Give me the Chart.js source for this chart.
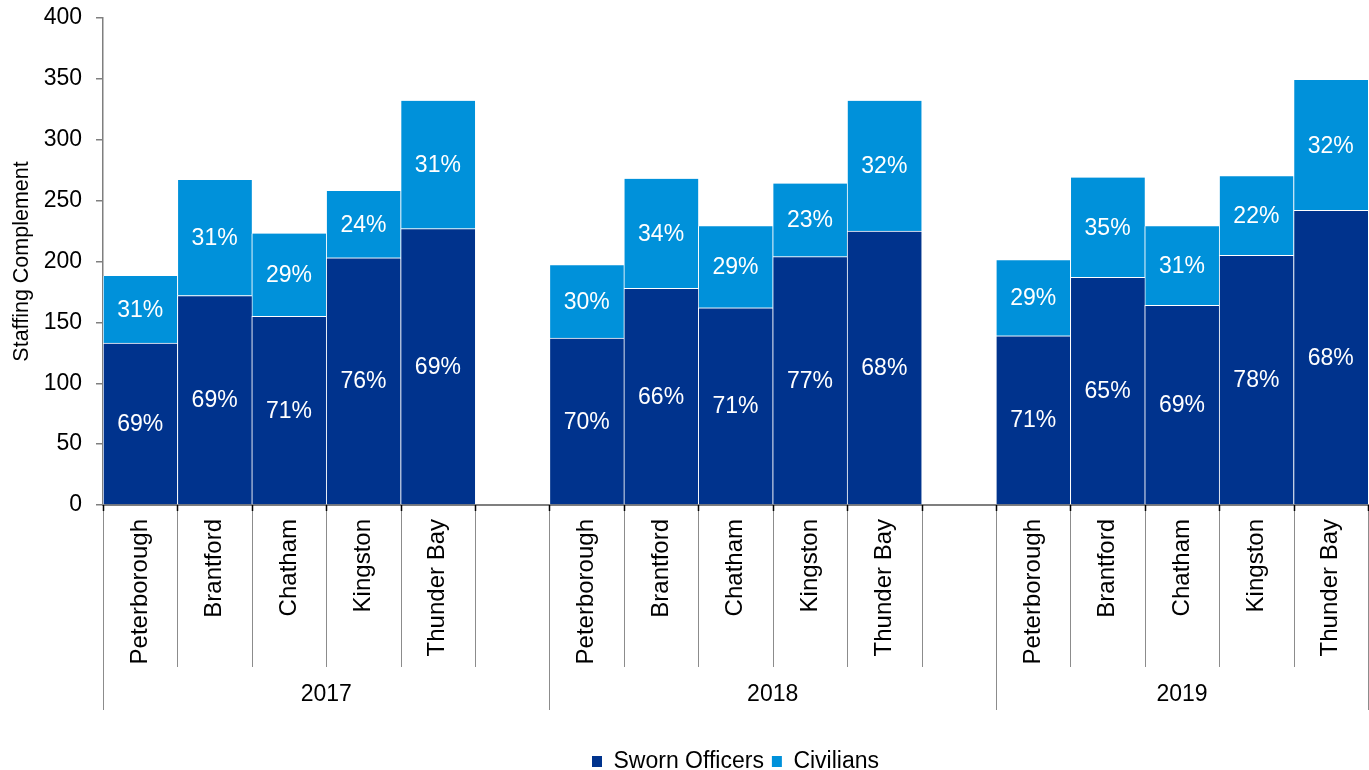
<!DOCTYPE html>
<html>
<head>
<meta charset="utf-8">
<script src="https://cdn.jsdelivr.net/npm/chart.js@4.4.1/dist/chart.umd.min.js"></script>
<style>
  html, body { margin: 0; padding: 0; background: #fff; }
</style>
</head>
<body>
<canvas id="staffChart" width="1369" height="770"></canvas>
<script>
const years = ['2017', '2018', '2019'];
const cities = ['Peterborough', 'Brantford', 'Chatham', 'Kingston', 'Thunder Bay'];

// headcounts per city
const sworn2017 = [133, 172, 155, 203, 227];
const civilians2017 = [55, 95, 68, 55, 105];
const sworn2018 = [137, 178, 162, 204, 225];
const civilians2018 = [60, 90, 67, 60, 107];
const sworn2019 = [139, 187, 164, 205, 242];
const civilians2019 = [62, 82, 65, 65, 107];

// share labels printed inside the bars
const swornPct2017 = [69, 69, 71, 76, 69];
const civiliansPct2017 = [31, 31, 29, 24, 31];
const swornPct2018 = [70, 66, 71, 77, 68];
const civiliansPct2018 = [30, 34, 29, 23, 32];
const swornPct2019 = [71, 65, 69, 78, 68];
const civiliansPct2019 = [29, 35, 31, 22, 32];

const yTicks = [0, 50, 100, 150, 200, 250, 300, 350, 400];

const FONT = "'Liberation Sans', Arial, sans-serif";
Chart.defaults.font.family = FONT;
Chart.defaults.font.size = 23;
Chart.defaults.color = '#000';

// flatten the years into one category axis, with an empty slot between groups
const swornYears = [sworn2017, sworn2018, sworn2019];
const civYears = [civilians2017, civilians2018, civilians2019];
const swornPctYears = [swornPct2017, swornPct2018, swornPct2019];
const civPctYears = [civiliansPct2017, civiliansPct2018, civiliansPct2019];

const labels = [];
const swornData = [], civData = [], swornPct = [], civPct = [];
const groupStarts = [];
years.forEach((yr, g) => {
  groupStarts.push(labels.length);
  cities.forEach((c, i) => {
    labels.push(c);
    swornData.push(swornYears[g][i]);
    civData.push(civYears[g][i]);
    swornPct.push(swornPctYears[g][i]);
    civPct.push(civPctYears[g][i]);
  });
  if (g < years.length - 1) {
    labels.push('');
    swornData.push(null); civData.push(null);
    swornPct.push(null); civPct.push(null);
  }
});
const pctByDataset = [swornPct, civPct];

// white % labels in the middle of each segment
const barLabels = {
  id: 'barLabels',
  afterDatasetsDraw(chart) {
    const ctx = chart.ctx;
    ctx.save();
    ctx.fillStyle = '#fff';
    ctx.font = '23px ' + FONT;
    ctx.textAlign = 'center';
    ctx.textBaseline = 'middle';
    chart.data.datasets.forEach((ds, d) => {
      chart.getDatasetMeta(d).data.forEach((bar, i) => {
        if (ds.data[i] == null) return;
        const p = bar.getProps(['x', 'y', 'base'], true);
        ctx.fillText(pctByDataset[d][i] + '%', p.x, (p.y + p.base) / 2 + 1);
      });
    });
    ctx.restore();
  }
};

// separators under the x axis + year row
const yearAxis = {
  id: 'yearAxis',
  afterDraw(chart) {
    const xs = chart.scales.x;
    const ctx = chart.ctx;
    const half = (xs.getPixelForValue(1) - xs.getPixelForValue(0)) / 2;
    ctx.save();
    ctx.lineWidth = 1;
    for (let i = 0; i <= labels.length; i++) {
      const px = Math.round(xs.getPixelForValue(i) - half) + 0.5;
      const isGroup = groupStarts.includes(i) || i === labels.length;
      ctx.strokeStyle = '#8c8c8c';
      ctx.beginPath();
      ctx.moveTo(px, xs.top);
      ctx.lineTo(px, xs.top + (isGroup ? 205 : 162));
      ctx.stroke();
      // short dark tick right under the axis
      ctx.strokeStyle = '#000';
      ctx.lineWidth = 1.5;
      ctx.beginPath();
      ctx.moveTo(px, xs.top);
      ctx.lineTo(px, xs.top + 6);
      ctx.stroke();
      ctx.lineWidth = 1;
    }
    ctx.fillStyle = '#000';
    ctx.font = '23px ' + FONT;
    ctx.textAlign = 'center';
    ctx.textBaseline = 'middle';
    years.forEach((yr, g) => {
      const start = xs.getPixelForValue(groupStarts[g]) - half;
      const endIdx = g < years.length - 1 ? groupStarts[g + 1] : labels.length;
      const end = xs.getPixelForValue(endIdx) - half;
      ctx.fillText(yr, (start + end) / 2, xs.top + 190);
    });
    ctx.restore();
  }
};

const ctx = document.getElementById('staffChart').getContext('2d');
const staffChart = new Chart(ctx, {
  type: 'bar',
  data: {
    labels: labels,
    datasets: [{
      label: 'Sworn Officers',
      data: swornData,
      backgroundColor: '#00338D',
      borderColor: '#ffffff',
      borderWidth: { top: 1, left: 1, right: 0, bottom: 0 },
      borderSkipped: false,
      barPercentage: 1,
      categoryPercentage: 1
    }, {
      label: 'Civilians',
      data: civData,
      backgroundColor: '#0091DA',
      borderColor: '#ffffff',
      borderWidth: { top: 0, left: 1, right: 0, bottom: 0 },
      borderSkipped: false,
      barPercentage: 1,
      categoryPercentage: 1
    }]
  },
  options: {
    responsive: false,
    animation: false,
    layout: { padding: { top: 18, right: 1, bottom: -13, left: 0 } },
    plugins: {
      tooltip: { enabled: false },
      legend: {
        position: 'bottom',
        fullSize: false,
        labels: {
          boxWidth: 10,
          boxHeight: 11,
          padding: 8,
          color: '#000',
          font: { size: 23 },
          generateLabels(chart) {
            return Chart.defaults.plugins.legend.labels.generateLabels(chart)
              .map(it => Object.assign(it, { lineWidth: 0 }));
          }
        }
      }
    },
    scales: {
      x: {
        stacked: true,
        offset: true,
        z: 1,
        grid: { display: false, drawTicks: false },
        border: { color: '#7f7f7f', width: 2 },
        ticks: { autoSkip: false, minRotation: 90, maxRotation: 90, padding: 14, color: '#000', font: { size: 24 } },
        afterFit(s) { s.height = 237; s.paddingLeft = 0; s.paddingRight = 0; }
      },
      y: {
        stacked: true,
        min: yTicks[0],
        max: yTicks[yTicks.length - 1],
        z: 1,
        afterBuildTicks(s) { s.ticks = yTicks.map(v => ({ value: v })); },
        ticks: { padding: 14, color: '#000' },
        grid: { drawOnChartArea: false, drawTicks: true, tickLength: 7, color: '#7f7f7f', lineWidth: 1.5 },
        border: { color: '#7f7f7f', width: 1.5 },
        title: {
          display: true,
          text: 'Staffing Complement',
          color: '#000',
          font: { size: 21.5 },
          padding: { top: 9, bottom: 0 }
        },
        afterFit(s) { s.width = 103; s.paddingTop = 0; s.paddingBottom = 0; }
      }
    }
  },
  plugins: [barLabels, yearAxis]
});
</script>
</body>
</html>
